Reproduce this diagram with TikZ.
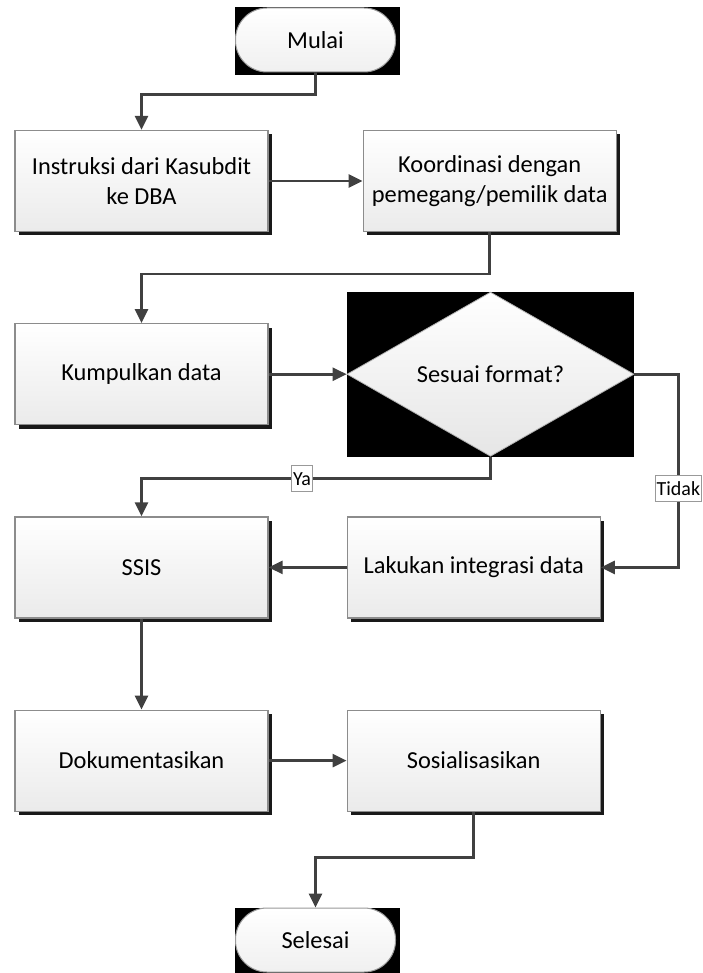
\documentclass[tikz,border=0pt]{standalone}
\usepackage{fontspec}
\setmainfont{Carlito}
\usepackage{tikz}
\usetikzlibrary{positioning,arrows.meta}
\usetikzlibrary{shapes.geometric}
\usetikzlibrary{shadows}
\usetikzlibrary{backgrounds}
\tikzstyle{tips}=[%
	 btip/.tip = {Triangle[length=14pt, width=13pt]},
	 -btip]

\begin{document}
\begin{tikzpicture}[tips, x=1pt, y=1pt, line width=2.6pt, color=black!75, font=\fontsize{24.4pt}{30pt}\selectfont]
			\def\jarak{91pt}
			\def\lebar{78pt}
			\tikzstyle{kotak}=[draw=black!45, line width=1.2pt, top color=white, bottom color=black!8, text=black, minimum width=253pt, minimum height=101pt, align=center, drop shadow={shadow xshift=4pt, shadow yshift=-4pt, fill=black, opacity=0.9}]
			\tikzstyle{keputusan}=[diamond, draw=black!30, line width=.8pt, top color=white, bottom color=black!10, text=black, minimum width=287pt, minimum height=142pt, inner sep=0pt]
			\tikzstyle{terminal}=[rectangle, rounded corners=31.5pt, draw=black!40, line width=1pt, top color=white, bottom color=black!6, text=black, minimum width=160pt, minimum height=64pt]
			\tikzstyle{ket}=[fill=white, draw=black!40, line width=.8pt, text=black, inner xsep=1.5pt, inner ysep=0pt, minimum height=26pt, font=\fontsize{20pt}{24pt}\selectfont]
			\useasboundingbox (0,0) rectangle (703,-973);
			\node[terminal] (mulai) at (315.5,-40) {Mulai};
			\node[kotak] (instruksi) at (141.5,-181) {Instruksi dari Kasubdit\\ke DBA};
			\node[kotak, right=94pt of instruksi] (koordinasi) {Koordinasi dengan\\pemegang/pemilik data};
			\node[kotak, below=\jarak of instruksi] (kumpul) {Kumpulkan data};
			\node[keputusan, right=\lebar of kumpul] (sesuai) {Sesuai format?};
			\node[kotak, below=\jarak of kumpul] (ssis) {SSIS};
			\node[kotak, right=\lebar of ssis] (integrasi) {Lakukan integrasi data};
			\node[kotak, below=\jarak of ssis] (dokumen) {Dokumentasikan};
			\node[kotak, right=\lebar of dokumen] (sosial) {Sosialisasikan};
			\node[terminal] (selesai) at (315.5,-940) {Selesai};
			\begin{scope}[on background layer]
				\fill[black, -] (mulai.north west) rectangle ([shift={(3.5,-3)}]mulai.south east);
				\fill[black, -] (sesuai.west |- sesuai.north) rectangle (sesuai.east |- sesuai.south);
				\fill[black, -] (selesai.north west) rectangle ([shift={(3.5,-3)}]selesai.south east);
			\end{scope}
			\draw (mulai.south) -- ++(0,-22) -| (instruksi.north);
			\draw (instruksi) -- (koordinasi);
			\draw (koordinasi.south) -- ++(0,-42) -| (kumpul.north);
			\draw (kumpul) -- (sesuai);
			\draw (sesuai.south) -- ++(0,-22) -| node[ket, pos=.27] {Ya} (ssis.north);
			\draw (sesuai.east) -- ++(44,0) |- node[ket, pos=.295] {Tidak} (integrasi.east);
			\draw (integrasi) -- (ssis);
			\draw (ssis) -- (dokumen);
			\draw (dokumen) -- (sosial);
			\draw (sosial.south) -- ++(0,-46) -| (selesai.north);
		\end{tikzpicture}
\end{document}
